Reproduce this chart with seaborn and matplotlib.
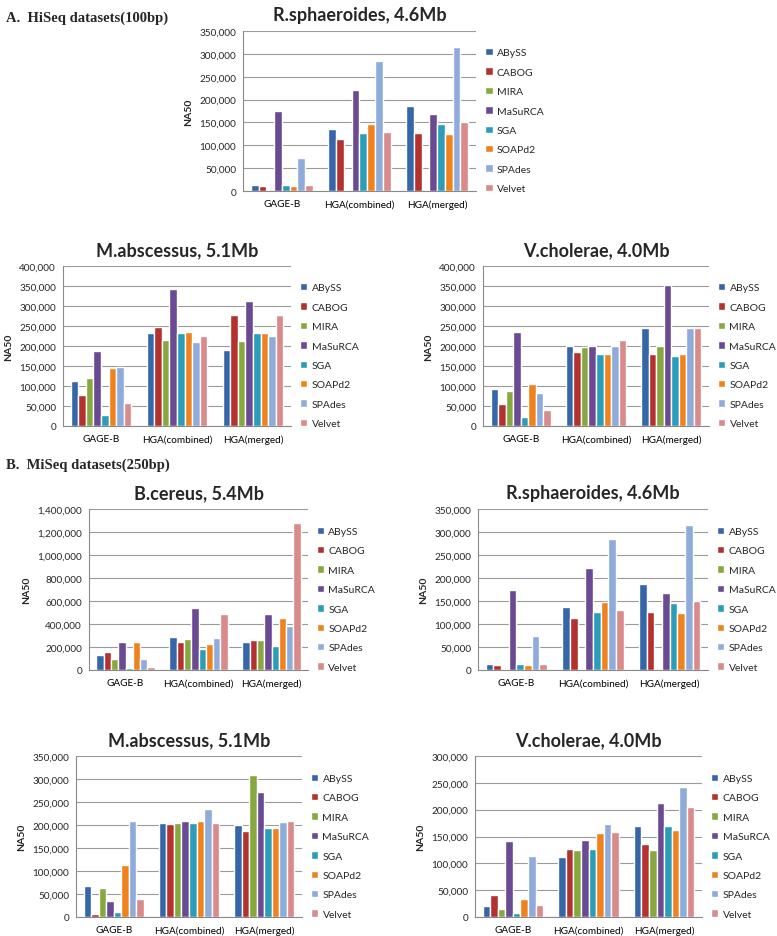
import matplotlib
matplotlib.use("Agg")
import pandas as pd
import matplotlib.pyplot as plt
import seaborn as sns
from matplotlib.ticker import FuncFormatter, FixedLocator

sns.set_style("white")
plt.rcParams["font.family"] = ["Lato", "DejaVu Sans"]

assemblers = ["ABySS", "CABOG", "MIRA", "MaSuRCA", "SGA", "SOAPd2", "SPAdes", "Velvet"]
datasets = ["GAGE-B", "HGA(combined)", "HGA(merged)"]
colors = ["#3566A8", "#B3322F", "#86A83E", "#6A4A92", "#2C9DB8", "#F0821E", "#8EABDA", "#D98A8A"]

# NA50 per assembler (order as in `assemblers`)
# HiSeq / MiSeq R.sphaeroides (same figures in both sections)
rsph_gage = [13000, 11000, 0, 175000, 13000, 10000, 73000, 13000]
rsph_comb = [136000, 113000, 0, 222000, 127000, 147000, 285000, 130000]
rsph_merg = [187000, 127000, 0, 168000, 146000, 125000, 315000, 150000]

# HiSeq M.abscessus
mab_hi_gage = [112000, 77000, 119000, 187000, 27000, 144000, 147000, 58000]
mab_hi_comb = [232000, 248000, 214000, 343000, 232000, 235000, 209000, 226000]
mab_hi_merg = [190000, 278000, 212000, 313000, 232000, 233000, 226000, 278000]

# HiSeq V.cholerae
vch_hi_gage = [93000, 56000, 87000, 236000, 23000, 105000, 83000, 40000]
vch_hi_comb = [199000, 185000, 197000, 199000, 179000, 181000, 199000, 216000]
vch_hi_merg = [246000, 181000, 199000, 353000, 176000, 181000, 246000, 246000]

# MiSeq B.cereus
bce_gage = [128000, 153000, 100000, 245000, 20000, 245000, 100000, 22000]
bce_comb = [290000, 240000, 270000, 540000, 180000, 230000, 280000, 485000]
bce_merg = [245000, 258000, 258000, 485000, 210000, 450000, 380000, 1280000]

# MiSeq M.abscessus
mab_mi_gage = [68000, 7000, 64000, 35000, 11000, 113000, 209000, 40000]
mab_mi_comb = [205000, 203000, 205000, 209000, 205000, 209000, 234000, 205000]
mab_mi_merg = [199000, 187000, 308000, 272000, 193000, 194000, 206000, 209000]

# MiSeq V.cholerae
vch_mi_gage = [21000, 41000, 14000, 142000, 8000, 33000, 114000, 23000]
vch_mi_comb = [112000, 127000, 124000, 144000, 127000, 157000, 174000, 158000]
vch_mi_merg = [170000, 136000, 124000, 212000, 170000, 163000, 243000, 205000]

W, H = 777, 937
fig = plt.figure(figsize=(W / 100, H / 100), dpi=100)


def panel(px, title, groups, ymax, step):
    x0, y0, x1, y1 = px
    ax = fig.add_axes([x0 / W, 1 - y1 / H, (x1 - x0) / W, (y1 - y0) / H])
    rows = []
    for ds, vals in zip(datasets, groups):
        for a, v in zip(assemblers, vals):
            rows.append({"dataset": ds, "assembler": a, "NA50": v})
    df = pd.DataFrame(rows)
    sns.barplot(data=df, x="dataset", y="NA50", hue="assembler", order=datasets,
                hue_order=assemblers, palette=colors, saturation=1, width=0.8,
                errorbar=None, ax=ax)
    ax.set_xlim(-0.5, 2.5)
    ax.set_ylim(0, ymax)
    ax.yaxis.set_major_locator(FixedLocator(list(range(0, ymax + 1, step))))
    ax.yaxis.set_major_formatter(FuncFormatter(lambda v, p: f"{int(v):,}"))
    ax.grid(axis="y", color="#9a9a9a", lw=0.8)
    ax.set_axisbelow(True)
    for s in ["top", "right"]:
        ax.spines[s].set_visible(False)
    for s in ["left", "bottom"]:
        ax.spines[s].set_color("#8a8a8a")
        ax.spines[s].set_linewidth(0.8)
    ax.set_xticks([-0.5, 0.5, 1.5, 2.5], minor=True)
    ax.tick_params(axis="x", which="major", length=0, labelsize=7.2, pad=6, colors="black")
    ax.tick_params(axis="x", which="minor", length=4, color="#8a8a8a", width=0.8)
    ax.tick_params(axis="y", length=3, color="#8a8a8a", width=0.8, labelsize=7.2, pad=2)
    ax.set_xlabel("")
    ax.set_ylabel("NA50", fontsize=7.5, fontweight="bold", labelpad=4)
    ax.set_title(title, fontsize=13, fontweight="bold", pad=8)
    h, l = ax.get_legend_handles_labels()
    ax.legend(h, l, loc="center left", bbox_to_anchor=(1.04, 0.44), frameon=False,
              fontsize=7.5, handlelength=0.7, handleheight=0.7, handletextpad=0.4,
              labelspacing=0.97, borderaxespad=0, borderpad=0)
    return ax


panel((243, 32, 476, 192), "R.sphaeroides, 4.6Mb", [rsph_gage, rsph_comb, rsph_merg], 350000, 50000)
panel((63, 267, 291, 427), "M.abscessus, 5.1Mb", [mab_hi_gage, mab_hi_comb, mab_hi_merg], 400000, 50000)
panel((483, 267, 709, 427), "V.cholerae, 4.0Mb", [vch_hi_gage, vch_hi_comb, vch_hi_merg], 400000, 50000)
panel((89, 510, 308, 671), "B.cereus, 5.4Mb", [bce_gage, bce_comb, bce_merg], 1400000, 200000)
panel((478, 510, 708, 671), "R.sphaeroides, 4.6Mb", [rsph_gage, rsph_comb, rsph_merg], 350000, 50000)
panel((76, 757, 302, 918), "M.abscessus, 5.1Mb", [mab_mi_gage, mab_mi_comb, mab_mi_merg], 350000, 50000)
panel((475, 757, 702, 918), "V.cholerae, 4.0Mb", [vch_mi_gage, vch_mi_comb, vch_mi_merg], 300000, 50000)

fig.text(6 / W, 1 - 18 / H, "A.  HiSeq datasets(100bp)", family=["Liberation Serif", "DejaVu Serif"],
         fontsize=10.5, fontweight="bold", va="center")
fig.text(6 / W, 1 - 465 / H, "B.  MiSeq datasets(250bp)", family=["Liberation Serif", "DejaVu Serif"],
         fontsize=10.5, fontweight="bold", va="center")

fig.savefig("out.png", dpi=100)
